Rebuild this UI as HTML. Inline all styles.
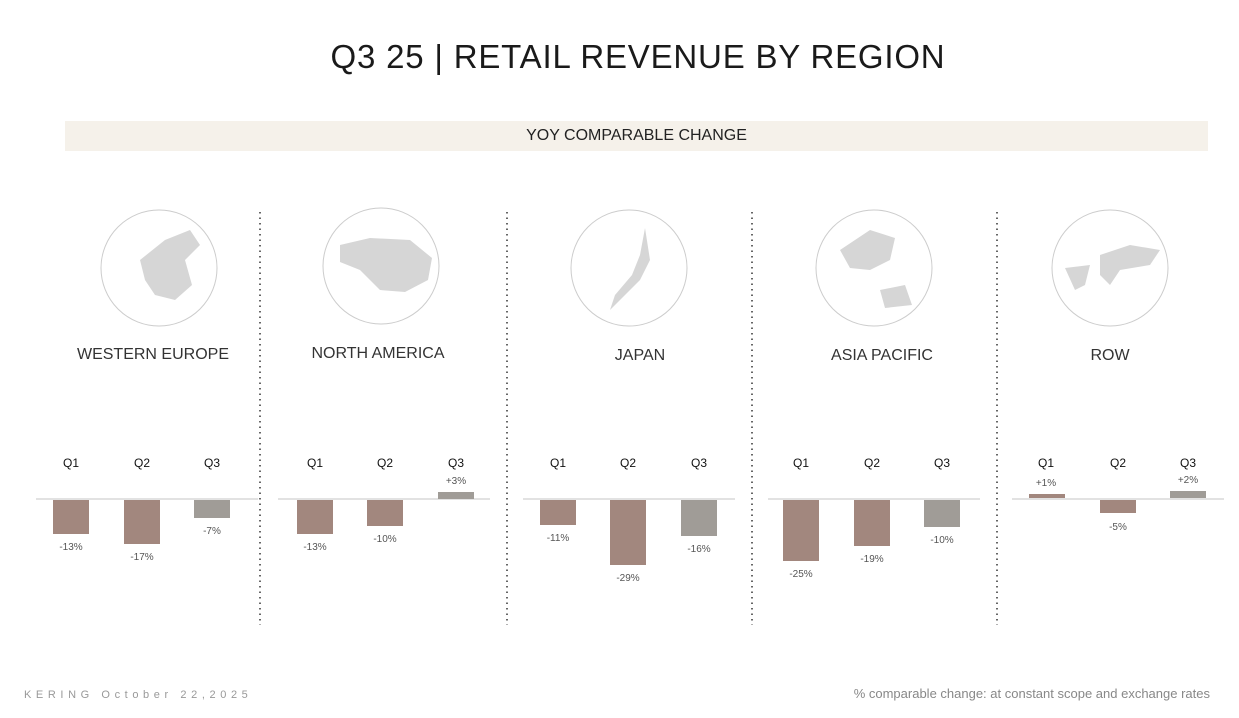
<!DOCTYPE html>
<html><head><meta charset="utf-8"><style>
body{margin:0;width:1239px;height:718px;background:#fff;font-family:"Liberation Sans",sans-serif;position:relative;overflow:hidden}
.a{position:absolute}
</style></head><body>
<div class="a" style="left:0;width:1276px;top:38px;text-align:center;font-size:33px;letter-spacing:0.8px;color:#1a1a1a">Q3 25 | RETAIL REVENUE BY REGION</div>
<div class="a" style="left:65px;top:121px;width:1143px;height:30px;background:#f5f1ea;text-align:center;line-height:30px;font-size:16px;color:#222">YOY COMPARABLE CHANGE</div>
<svg class="a" style="left:0;top:0" width="1239" height="718">
<g stroke="#333" stroke-width="1.5" stroke-dasharray="1.5,4">
<line x1="260" y1="212" x2="260" y2="625"/><line x1="507" y1="212" x2="507" y2="625"/><line x1="752" y1="212" x2="752" y2="625"/><line x1="997" y1="212" x2="997" y2="625"/></g>
<g fill="none" stroke="#ccc"><circle cx="159" cy="268" r="58"/><circle cx="381" cy="266" r="58"/><circle cx="629" cy="268" r="58"/><circle cx="874" cy="268" r="58"/><circle cx="1110" cy="268" r="58"/></g>
<g fill="#d6d6d6">
<path d="M140 260 L165 240 L190 230 L200 245 L185 260 L192 285 L175 300 L155 295 L145 280Z"/>
<path d="M340 245 L370 238 L410 240 L432 258 L428 280 L405 292 L380 290 L360 270 L340 262Z"/>
<path d="M645 228 L650 260 L640 280 L620 300 L610 310 L615 295 L632 275 L640 255Z"/>
<path d="M840 250 L870 230 L895 238 L890 260 L870 270 L850 268Z M880 290 L905 285 L912 305 L885 308Z"/>
<path d="M1100 255 L1130 245 L1160 250 L1150 265 L1120 270 L1110 285 L1100 275Z M1065 268 L1090 265 L1085 285 L1075 290Z"/>
</g>
<g stroke="#e2e2e2" stroke-width="2"><line x1="36" y1="499" x2="258" y2="499"/><line x1="278" y1="499" x2="490" y2="499"/><line x1="523" y1="499" x2="735" y2="499"/><line x1="768" y1="499" x2="980" y2="499"/><line x1="1012" y1="499" x2="1224" y2="499"/></g>
<g fill="#a2877e">
<rect x="53" y="500" width="36" height="34"/><rect x="124" y="500" width="36" height="44"/>
<rect x="297" y="500" width="36" height="34"/><rect x="367" y="500" width="36" height="26"/>
<rect x="540" y="500" width="36" height="25"/><rect x="610" y="500" width="36" height="65"/>
<rect x="783" y="500" width="36" height="61"/><rect x="854" y="500" width="36" height="46"/>
<rect x="1029" y="494" width="36" height="4"/><rect x="1100" y="500" width="36" height="13"/></g>
<g fill="#a09c97">
<rect x="194" y="500" width="36" height="18"/><rect x="438" y="492" width="36" height="7"/>
<rect x="681" y="500" width="36" height="36"/><rect x="924" y="500" width="36" height="27"/><rect x="1170" y="491" width="36" height="7"/></g>
<g font-size="16" fill="#333" text-anchor="middle">
<text x="153" y="359">WESTERN EUROPE</text><text x="378" y="358">NORTH AMERICA</text><text x="640" y="360">JAPAN</text><text x="882" y="360">ASIA PACIFIC</text><text x="1110" y="360">ROW</text></g>
<g font-size="12" fill="#111" text-anchor="middle">
<text x="71" y="467">Q1</text><text x="142" y="467">Q2</text><text x="212" y="467">Q3</text>
<text x="315" y="467">Q1</text><text x="385" y="467">Q2</text><text x="456" y="467">Q3</text>
<text x="558" y="467">Q1</text><text x="628" y="467">Q2</text><text x="699" y="467">Q3</text>
<text x="801" y="467">Q1</text><text x="872" y="467">Q2</text><text x="942" y="467">Q3</text>
<text x="1046" y="467">Q1</text><text x="1118" y="467">Q2</text><text x="1188" y="467">Q3</text></g>
<g font-size="10" fill="#555" text-anchor="middle">
<text x="71" y="550">-13%</text><text x="142" y="560">-17%</text><text x="212" y="534">-7%</text>
<text x="315" y="550">-13%</text><text x="385" y="542">-10%</text><text x="456" y="484">+3%</text>
<text x="558" y="541">-11%</text><text x="628" y="581">-29%</text><text x="699" y="552">-16%</text>
<text x="801" y="577">-25%</text><text x="872" y="562">-19%</text><text x="942" y="543">-10%</text>
<text x="1046" y="486">+1%</text><text x="1118" y="530">-5%</text><text x="1188" y="483">+2%</text></g>
<text x="24" y="698" font-size="11" fill="#999" letter-spacing="4.6">KERING  October 22,2025</text>
<text x="1210" y="698" font-size="13" fill="#888" text-anchor="end">% comparable change: at constant scope and exchange rates</text>
</svg>
</body></html>
